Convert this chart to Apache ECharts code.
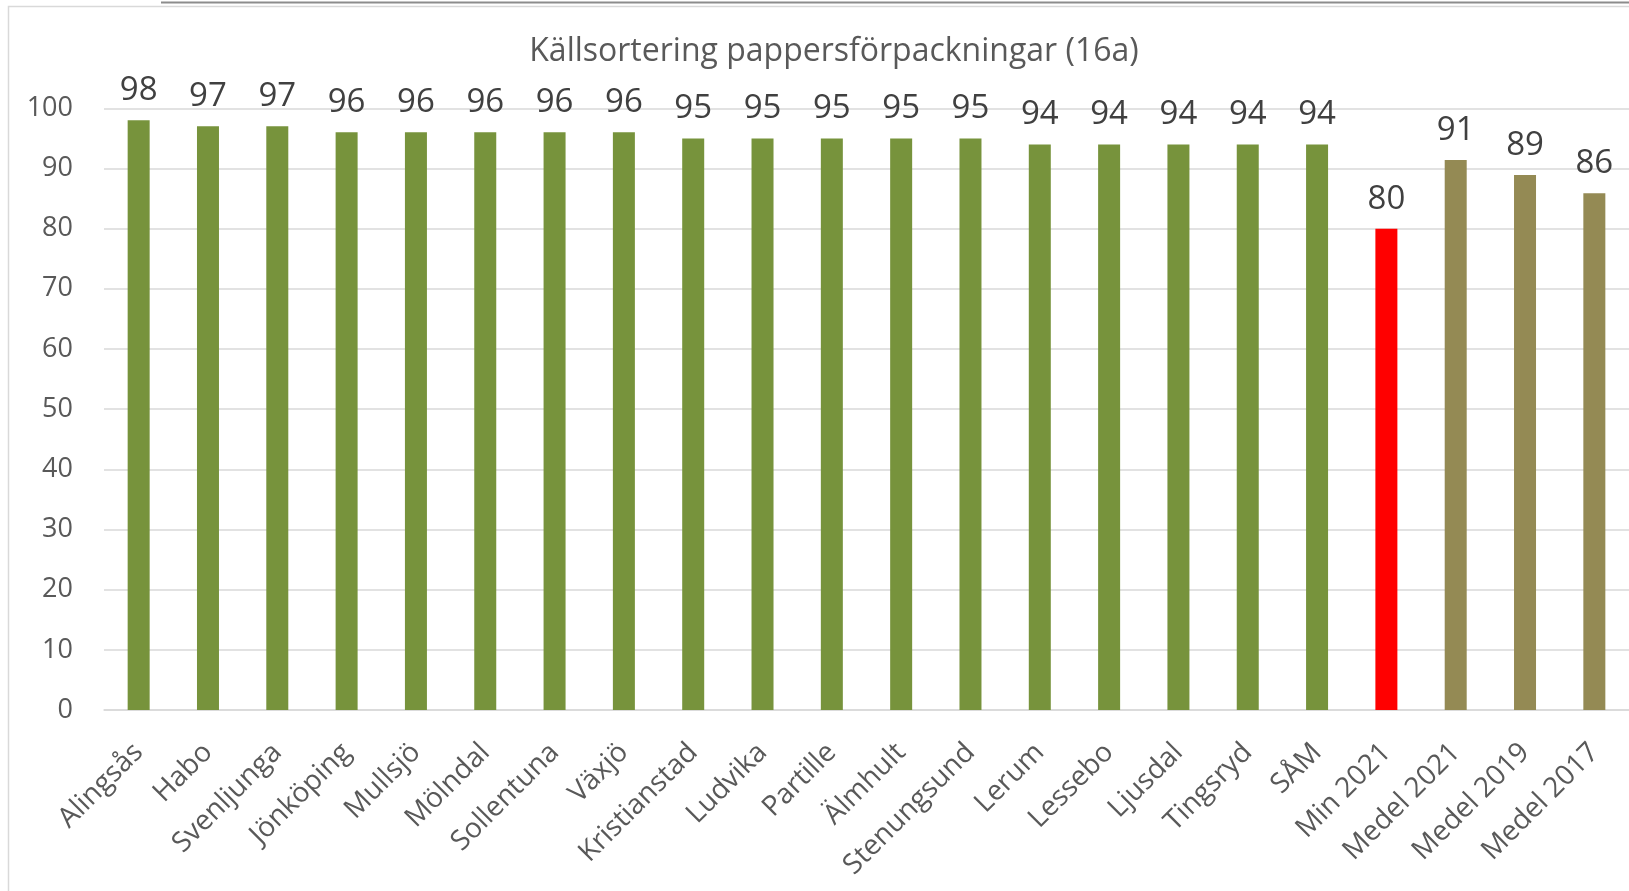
<!DOCTYPE html>
<html>
<head>
<meta charset="utf-8">
<script src="https://cdn.jsdelivr.net/npm/echarts@6/dist/echarts.min.js"></script>
<style>
  html, body { margin: 0; padding: 0; background: #fff; }
  #chart { width: 1629px; height: 891px; }
</style>
</head>
<body>
<div id="chart"></div>
<script>
var categories = ['Alingsås', 'Habo', 'Svenljunga', 'Jönköping', 'Mullsjö', 'Mölndal', 'Sollentuna', 'Växjö',
  'Kristianstad', 'Ludvika', 'Partille', 'Älmhult', 'Stenungsund', 'Lerum', 'Lessebo', 'Ljusdal',
  'Tingsryd', 'SÅM', 'Min 2021', 'Medel 2021', 'Medel 2019', 'Medel 2017'];
var values = [98, 97, 97, 96, 96, 96, 96, 96, 95, 95, 95, 95, 95, 94, 94, 94, 94, 94, 80, 91.4, 88.9, 85.9];
var yTicks = [0, 10, 20, 30, 40, 50, 60, 70, 80, 90, 100];

var textColor = '#595959';
var fontFam = '"Open Sans", sans-serif';

function barColor(name) {
  if (name === 'Min 2021') return '#FF0000';
  if (name.indexOf('Medel') === 0) return '#948A54';
  return '#77933C';
}

var chart = echarts.init(document.getElementById('chart'));
var option = {
  animation: false,
  backgroundColor: '#fff',
  title: {
    text: 'Källsortering pappersförpackningar (16a)',
    left: 829,
    top: 31,
    textAlign: 'center',
    textStyle: { color: textColor, fontFamily: fontFam, fontSize: 32, fontWeight: 'normal' }
  },
  graphic: [
    { type: 'rect', shape: { x: 8.5, y: 6.5, width: 1700, height: 1000 }, style: { fill: 'none', stroke: '#D9D9D9', lineWidth: 1.5 }, silent: true },
    { type: 'line', shape: { x1: 161, y1: 2.5, x2: 1629, y2: 2.5 }, style: { stroke: '#8C8C8C', lineWidth: 2 }, silent: true }
  ],
  grid: { left: 104, right: -1, top: 108.3, bottom: 181 },
  xAxis: {
    type: 'category',
    data: categories,
    axisLine: { show: true, lineStyle: { color: '#D9D9D9', width: 1.5 } },
    axisTick: { show: false },
    axisLabel: {
      interval: 0,
      rotate: 45,
      margin: 38,
      color: textColor,
      fontFamily: fontFam,
      fontSize: 28
    }
  },
  yAxis: {
    type: 'value',
    min: yTicks[0],
    max: yTicks[yTicks.length - 1],
    interval: yTicks[1] - yTicks[0],
    axisLine: { show: false },
    axisTick: { show: false },
    splitLine: { lineStyle: { color: '#D9D9D9', width: 1.5 } },
    axisLabel: { margin: 31, color: textColor, fontFamily: fontFam, fontSize: 27 }
  },
  series: [{
    type: 'bar',
    barWidth: 22,
    data: values.map(function (v, i) {
      return { value: v, itemStyle: { color: barColor(categories[i]) } };
    }),
    label: {
      show: true,
      position: 'top',
      distance: 13,
      color: '#404040',
      fontFamily: fontFam,
      fontSize: 33,
      formatter: function (p) { return Math.round(p.value); }
    }
  }]
};
chart.setOption(option);
</script>
</body>
</html>
